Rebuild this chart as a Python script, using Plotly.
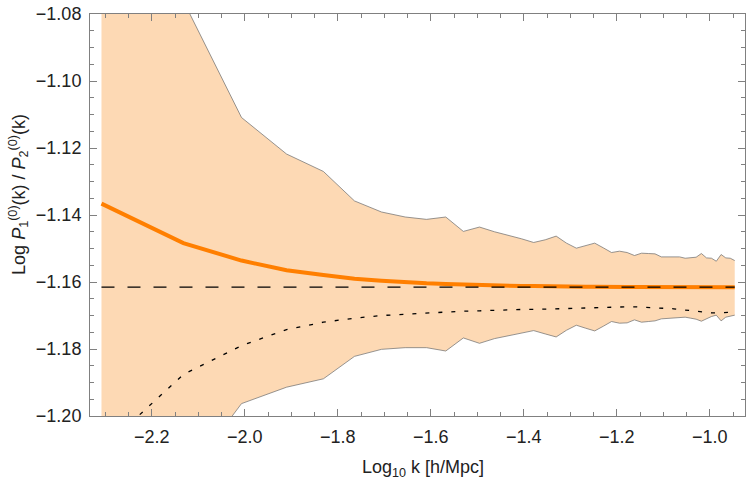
import plotly.graph_objects as go

# log10 k [h/Mpc] at the sampled points
log_k = [-2.3081, -2.1320, -2.0070, -1.9101, -1.8309, -1.7640, -1.7060, -1.6549,
         -1.6091, -1.5677, -1.5299, -1.4952, -1.4630, -1.4330, -1.4050, -1.3787,
         -1.3538, -1.3303, -1.3081, -1.2869, -1.2667, -1.2474, -1.2289, -1.2112,
         -1.1941, -1.1777, -1.1619, -1.1467, -1.1320, -1.1177, -1.1040, -1.0906,
         -1.0776, -1.0650, -1.0528, -1.0409, -1.0293, -1.0180, -1.0070, -0.9963,
         -0.9859, -0.9756, -0.9656, -0.9559, -0.9463]

band_upper = [-1.0300, -1.0761, -1.1109, -1.1218, -1.1270, -1.1358, -1.1391, -1.1406,
              -1.1413, -1.1406, -1.1449, -1.1436, -1.1450, -1.1460, -1.1471, -1.1482,
              -1.1474, -1.1463, -1.1484, -1.1499, -1.1491, -1.1484, -1.1498, -1.1512,
              -1.1508, -1.1512, -1.1521, -1.1514, -1.1515, -1.1516, -1.1525, -1.1525,
              -1.1525, -1.1525, -1.1529, -1.1528, -1.1526, -1.1515, -1.1528, -1.1529,
              -1.1538, -1.1518, -1.1528, -1.1529, -1.1536]

band_lower = [-1.2500, -1.2194, -1.1963, -1.1914, -1.1889, -1.1822, -1.1801, -1.1796,
              -1.1796, -1.1806, -1.1767, -1.1783, -1.1769, -1.1760, -1.1752, -1.1745,
              -1.1755, -1.1764, -1.1744, -1.1729, -1.1738, -1.1746, -1.1732, -1.1718,
              -1.1723, -1.1722, -1.1713, -1.1720, -1.1718, -1.1716, -1.1710, -1.1709,
              -1.1708, -1.1707, -1.1705, -1.1708, -1.1711, -1.1717, -1.1709, -1.1703,
              -1.1699, -1.1716, -1.1705, -1.1703, -1.1699]

mean_ratio = [-1.1366, -1.1484, -1.1536, -1.1565, -1.1579, -1.1590, -1.1596, -1.1601,
              -1.1604, -1.1606, -1.1608, -1.1609, -1.1610, -1.1611, -1.1612, -1.1612,
              -1.1613, -1.1613, -1.1614, -1.1614, -1.1614, -1.1614, -1.1615, -1.1615,
              -1.1615, -1.1615, -1.1615, -1.1615, -1.1615, -1.1615, -1.1616, -1.1616,
              -1.1616, -1.1616, -1.1616, -1.1616, -1.1616, -1.1616, -1.1616, -1.1616,
              -1.1616, -1.1616, -1.1616, -1.1616, -1.1616]

dotted_ratio = [-1.2101, -1.1876, -1.1790, -1.1742, -1.1720, -1.1708, -1.1700, -1.1696,
                -1.1692, -1.1690, -1.1687, -1.1686, -1.1684, -1.1683, -1.1682, -1.1682,
                -1.1681, -1.1680, -1.1679, -1.1678, -1.1677, -1.1675, -1.1675, -1.1674,
                -1.1674, -1.1674, -1.1674, -1.1675, -1.1676, -1.1677, -1.1677, -1.1678,
                -1.1680, -1.1682, -1.1684, -1.1686, -1.1687, -1.1689, -1.1690, -1.1692,
                -1.1692, -1.1691, -1.1690, -1.1690, -1.1690]

reference_level = -1.1615

x_range = [-2.3328, -0.9242]
y_range = [-1.20, -1.08]
x_ticks = [-2.2, -2.0, -1.8, -1.6, -1.4, -1.2, -1.0]
y_ticks = [-1.20, -1.18, -1.16, -1.14, -1.12, -1.10, -1.08]

FONT = "Liberation Sans, Arial, sans-serif"

fig = go.Figure()

fig.add_trace(go.Scatter(x=log_k, y=band_lower, mode="lines",
                         line=dict(color="rgba(110,110,110,0.9)", width=0.8),
                         hoverinfo="skip", showlegend=False))
fig.add_trace(go.Scatter(x=log_k, y=band_upper, mode="lines", fill="tonexty",
                         fillcolor="rgb(253,217,180)",
                         line=dict(color="rgba(110,110,110,0.9)", width=0.8),
                         hoverinfo="skip", showlegend=False))
fig.add_trace(go.Scatter(x=log_k, y=dotted_ratio, mode="lines",
                         line=dict(color="black", width=1.3, dash="4px,9px"),
                         showlegend=False))
fig.add_trace(go.Scatter(x=log_k, y=mean_ratio, mode="lines",
                         line=dict(color="rgb(255,127,0)", width=4),
                         showlegend=False))
fig.add_trace(go.Scatter(x=[log_k[0], log_k[-1]], y=[reference_level, reference_level],
                         mode="lines", line=dict(color="black", width=1.3, dash="13px,13px"),
                         showlegend=False))

axis_common = dict(
    showline=True, linecolor="#808080", linewidth=1, mirror="ticks",
    ticks="inside", ticklen=7, tickwidth=1, tickcolor="#808080",
    showgrid=False, zeroline=False,
    tickfont=dict(family=FONT, size=18, color="#222222"),
)

fig.update_xaxes(range=x_range, tickvals=x_ticks,
                 ticktext=["−2.2", "−2.0", "−1.8", "−1.6", "−1.4", "−1.2", "−1.0"],
                 minor=dict(dtick=0.05, tick0=0, ticks="inside", ticklen=4,
                            tickcolor="#808080", tickwidth=1),
                 ticklabelstandoff=4,
                 **axis_common)
fig.update_yaxes(range=y_range, tickvals=y_ticks,
                 ticktext=["−1.20", "−1.18", "−1.16", "−1.14", "−1.12", "−1.10", "−1.08"],
                 minor=dict(dtick=0.005, tick0=0, ticks="inside", ticklen=4,
                            tickcolor="#808080", tickwidth=1),
                 ticklabelstandoff=4,
                 **axis_common)

fig.add_annotation(text="Log<sub>10</sub> k [h/Mpc]", xref="paper", yref="paper",
                   x=0.5, y=0, xshift=5, yshift=-52, xanchor="center", yanchor="middle",
                   showarrow=False,
                   font=dict(family=FONT, size=18, color="#222222"))
fig.add_annotation(text="Log <i>P</i><sub>1</sub><sup>(0)</sup>(k) / <i>P</i><sub>2</sub><sup>(0)</sup>(k)",
                   xref="paper", yref="paper", x=0, y=0.55, xshift=-71,
                   xanchor="center", yanchor="middle", textangle=-90, showarrow=False,
                   font=dict(family=FONT, size=18, color="#222222"))

fig.update_layout(width=750, height=480,
                  margin=dict(l=90, r=4, t=11, b=64),
                  paper_bgcolor="white", plot_bgcolor="white")

fig.write_html("out.html")
